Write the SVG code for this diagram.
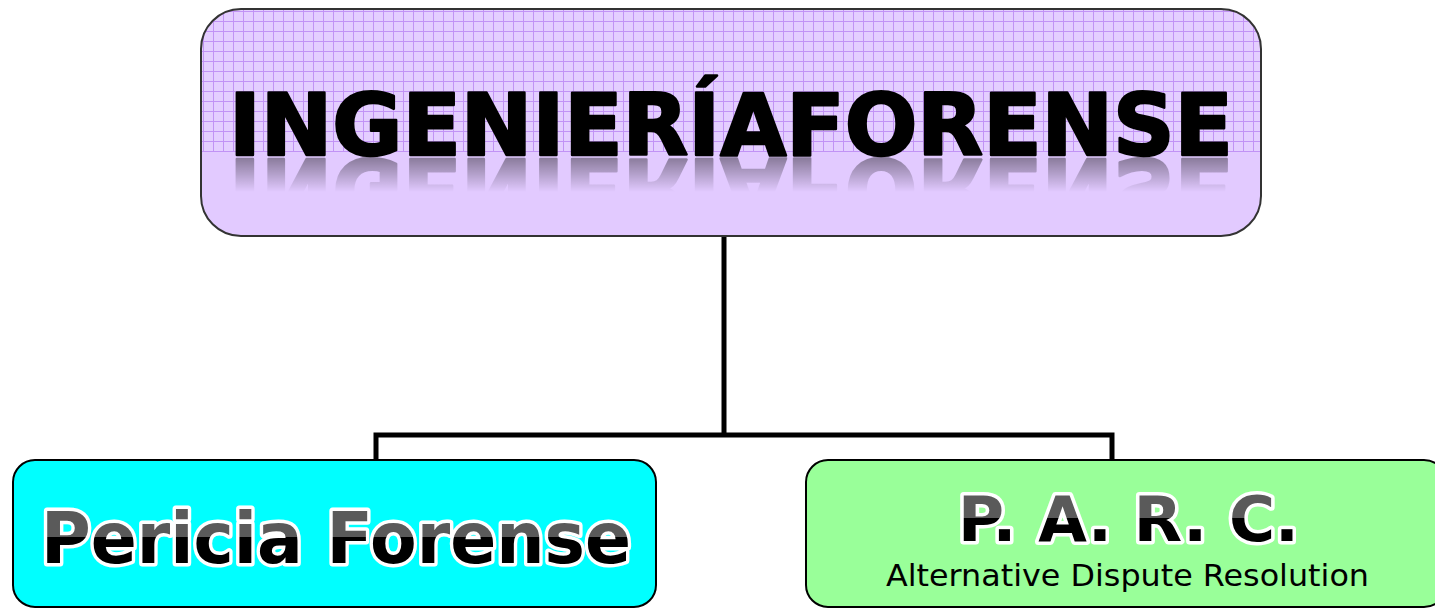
<svg xmlns="http://www.w3.org/2000/svg" xmlns:xlink="http://www.w3.org/1999/xlink" width="1435" height="609" viewBox="0 0 1435 609">
  <style>
    .box { stroke: #000; stroke-width: 2; }
    .conn { fill: none; stroke: #000; stroke-width: 5; stroke-linejoin: miter; stroke-linecap: butt; }
    .title { font-family: "DejaVu Sans", Verdana, sans-serif; font-weight: bold; font-size: 85px; fill: #000; stroke: #000; stroke-width: 2.5; stroke-linejoin: round; }
    .outl { font-family: "DejaVu Sans", Verdana, sans-serif; font-weight: bold; stroke: #fff; stroke-width: 7; paint-order: stroke; stroke-linejoin: round; }
    .sub { font-family: "DejaVu Sans", Verdana, sans-serif; font-size: 31px; fill: #000; }
  </style>
  <defs>
    <pattern id="grid" x="203" y="11" width="10" height="10" patternUnits="userSpaceOnUse">
      <rect width="10" height="10" fill="#e4ceff"/>
      <path d="M0 0.5 H10 M0.5 0 V10" stroke="#c193f5" stroke-width="1"/>
    </pattern>
    <clipPath id="topClip">
      <rect x="201" y="9" width="1060" height="227" rx="40" ry="40"/>
    </clipPath>
    <linearGradient id="reflGrad" x1="0" y1="157" x2="0" y2="192" gradientUnits="userSpaceOnUse">
      <stop offset="0" stop-color="#fff" stop-opacity="0.4"/>
      <stop offset="1" stop-color="#fff" stop-opacity="0"/>
    </linearGradient>
    <mask id="reflMask" maskUnits="userSpaceOnUse" x="0" y="0" width="1435" height="609">
      <rect x="0" y="157" width="1435" height="40" fill="url(#reflGrad)"/>
    </mask>
    <linearGradient id="pFill1" x1="0" y1="510" x2="0" y2="564" gradientUnits="userSpaceOnUse">
      <stop offset="0" stop-color="#5a5a5a"/>
      <stop offset="0.5" stop-color="#5a5a5a"/>
      <stop offset="0.5" stop-color="#000"/>
      <stop offset="1" stop-color="#000"/>
    </linearGradient>
    <linearGradient id="pFill2" x1="0" y1="495" x2="0" y2="542" gradientUnits="userSpaceOnUse">
      <stop offset="0" stop-color="#5a5a5a"/>
      <stop offset="0.5" stop-color="#5a5a5a"/>
      <stop offset="0.5" stop-color="#000"/>
      <stop offset="1" stop-color="#000"/>
    </linearGradient>
  </defs>

  <g id="connectors">
    <path class="conn" d="M724 236 V435"/>
    <path class="conn" d="M376 460 V435 H1112 V460"/>
  </g>

  <g id="node-ingenieria">
    <rect x="201" y="9" width="1060" height="227" rx="40" ry="40" fill="#e2caff"/>
    <rect x="201" y="9" width="1060" height="143" fill="url(#grid)" clip-path="url(#topClip)"/>
    <rect x="201" y="9" width="1060" height="227" rx="40" ry="40" fill="none" stroke="#333" stroke-width="2"/>
    <text id="t-title" class="title" x="229" y="155" textLength="1004" lengthAdjust="spacingAndGlyphs">INGENIERÍAFORENSE</text>
    <g mask="url(#reflMask)">
      <use xlink:href="#t-title" href="#t-title" transform="matrix(1 0 0 -1 0 314)"/>
    </g>
  </g>

  <g id="node-pericia">
    <rect class="box" x="13" y="460" width="643" height="147" rx="22" ry="22" fill="#00ffff"/>
    <text class="outl" x="41" y="563" font-size="71" fill="url(#pFill1)" textLength="590" lengthAdjust="spacingAndGlyphs">Pericia Forense</text>
  </g>

  <g id="node-parc">
    <rect class="box" x="806" y="460" width="640" height="147" rx="22" ry="22" fill="#99ff99"/>
    <text class="outl" x="958" y="541" font-size="62" fill="url(#pFill2)" textLength="341" lengthAdjust="spacingAndGlyphs">P. A. R. C.</text>
    <text class="sub" x="886" y="586" textLength="483" lengthAdjust="spacingAndGlyphs">Alternative Dispute Resolution</text>
  </g>
</svg>
